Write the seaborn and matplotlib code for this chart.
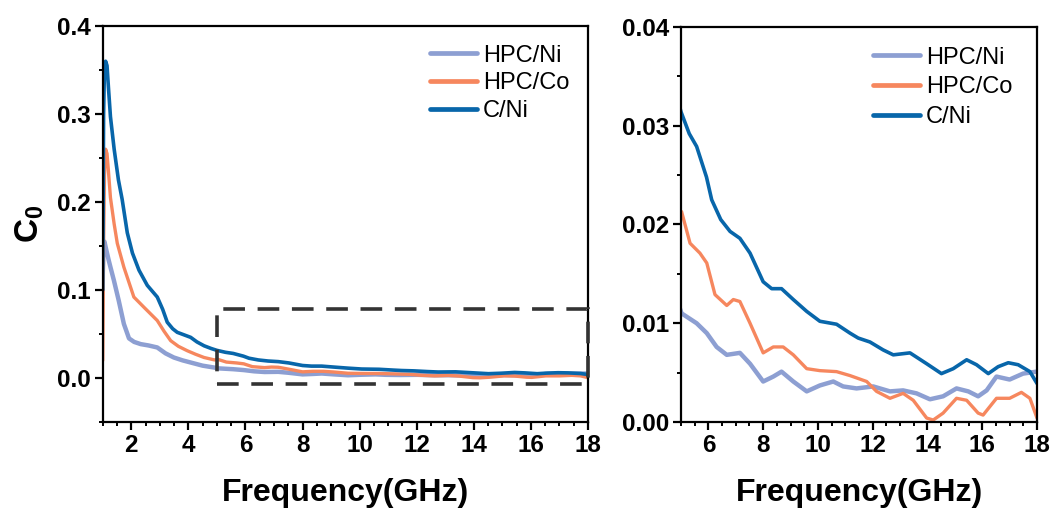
import numpy as np
import pandas as pd
import matplotlib
matplotlib.use("Agg")
import matplotlib.pyplot as plt
from matplotlib.patches import Rectangle
from matplotlib.ticker import MultipleLocator
import seaborn as sns

# ---------------- data ----------------
series_names = ["HPC/Ni", "HPC/Co", "C/Ni"]

freq_hpcni = [1.0, 1.03, 1.06, 1.1, 1.2, 1.27, 1.39, 1.56, 1.74, 1.92, 2.1, 2.33, 2.6, 2.91, 3.2,
              3.49, 3.8, 4.08, 4.5, 4.92, 5.02, 5.57, 5.94, 6.30, 6.67, 7.15, 7.52, 8.0, 8.37, 8.67,
              9.1, 9.59, 10.07, 10.56, 10.92, 11.41, 12.02, 12.63, 13.11, 13.6, 14.09, 14.57, 15.06,
              15.49, 15.85, 16.16, 16.52, 17.0, 17.49, 17.98]
c0_hpcni = [0.12, 0.15, 0.155, 0.149, 0.135, 0.126, 0.111, 0.088, 0.0615, 0.045, 0.041, 0.0385, 0.037,
            0.0347, 0.028, 0.0233, 0.020, 0.0176, 0.014, 0.0118, 0.0110, 0.0100, 0.0090, 0.0076, 0.0068,
            0.0070, 0.0059, 0.0041, 0.0046, 0.0051, 0.0041, 0.0031, 0.0037, 0.0041, 0.0036, 0.0034,
            0.0036, 0.0031, 0.0032, 0.0029, 0.0023, 0.0026, 0.0034, 0.0031, 0.0026, 0.0032, 0.0046,
            0.0043, 0.0049, 0.0051]

freq_hpcco = [1.0, 1.03, 1.06, 1.1, 1.15, 1.2, 1.27, 1.4, 1.51, 1.74, 2.09, 2.44, 2.91, 3.15, 3.38,
              3.65, 3.96, 4.25, 4.55, 4.92, 5.02, 5.33, 5.69, 5.94, 6.24, 6.67, 6.91, 7.15, 7.52, 8.0,
              8.37, 8.73, 9.1, 9.59, 10.07, 10.68, 11.17, 11.78, 12.14, 12.63, 13.11, 13.48, 13.97,
              14.21, 14.57, 15.06, 15.43, 15.85, 16.03, 16.52, 17.0, 17.43, 17.74, 18.0]
c0_hpcco = [0.02, 0.15, 0.23, 0.26, 0.255, 0.235, 0.205, 0.175, 0.153, 0.126, 0.092, 0.0805, 0.0653,
            0.053, 0.0424, 0.036, 0.031, 0.027, 0.0233, 0.0205, 0.0213, 0.0181, 0.0171, 0.0161, 0.0129,
            0.0118, 0.0124, 0.0122, 0.0100, 0.0070, 0.0076, 0.0076, 0.0068, 0.0054, 0.0052, 0.0051,
            0.0047, 0.0041, 0.0031, 0.0024, 0.0029, 0.0022, 0.0004, 0.0002, 0.0009, 0.0024, 0.0022,
            0.0009, 0.0007, 0.0024, 0.0024, 0.0030, 0.0024, 0.0004]

freq_cni = [1.0, 1.03, 1.06, 1.1, 1.15, 1.2, 1.27, 1.4, 1.55, 1.68, 1.86, 2.04, 2.27, 2.56, 2.91, 3.1,
            3.26, 3.45, 3.61, 3.85, 4.08, 4.3, 4.55, 4.8, 5.0, 5.3, 5.57, 5.93, 6.12, 6.45, 6.79, 7.15,
            7.52, 8.0, 8.31, 8.67, 9.1, 9.59, 10.07, 10.68, 11.17, 11.47, 11.9, 12.38, 12.75, 13.36,
            13.97, 14.51, 14.94, 15.43, 15.79, 16.22, 16.58, 16.95, 17.31, 17.74, 18.0]
c0_cni = [0.10, 0.30, 0.35, 0.36, 0.355, 0.33, 0.297, 0.26, 0.225, 0.203, 0.165, 0.142, 0.1225, 0.1053,
          0.092, 0.078, 0.0634, 0.056, 0.0519, 0.049, 0.0462, 0.041, 0.0366, 0.0335, 0.0314, 0.0292,
          0.0279, 0.0248, 0.0225, 0.0205, 0.0193, 0.0186, 0.0171, 0.0142, 0.0135, 0.0135, 0.0124,
          0.0112, 0.0102, 0.0099, 0.0090, 0.0085, 0.0081, 0.0073, 0.0068, 0.0070, 0.0059, 0.0049,
          0.0054, 0.0063, 0.0058, 0.0049, 0.0056, 0.0060, 0.0058, 0.0051, 0.0039]

left_yticks = [0.0, 0.1, 0.2, 0.3, 0.4]
left_xticks = [2, 4, 6, 8, 10, 12, 14, 16, 18]
right_yticks = [0.00, 0.01, 0.02, 0.03, 0.04]
right_xticks = [6, 8, 10, 12, 14, 16, 18]
zoom_box = (5, -0.007, 18, 0.078)  # x0, y0, x1, y1

# ---------------- style ----------------
sns.set_style("ticks")
plt.rcParams["font.family"] = ["Liberation Sans", "DejaVu Sans"]
plt.rcParams["mathtext.fontset"] = "custom"
plt.rcParams["mathtext.rm"] = "Liberation Sans"
plt.rcParams["mathtext.bf"] = "Liberation Sans:bold"
plt.rcParams["mathtext.it"] = "Liberation Sans:italic"
for k in ("text.color", "axes.labelcolor", "xtick.color", "ytick.color", "axes.edgecolor"):
    plt.rcParams[k] = "black"

colors = {"HPC/Ni": "#8d9fd2", "HPC/Co": "#f6875e", "C/Ni": "#0866aa"}
widths = {"HPC/Ni": 3.2, "HPC/Co": 2.4, "C/Ni": 2.6}
TICK_FS = 17.5

frames = []
for name, f, v in zip(series_names, [freq_hpcni, freq_hpcco, freq_cni], [c0_hpcni, c0_hpcco, c0_cni]):
    frames.append(pd.DataFrame({"freq": f, "c0": v, "series": name}))
df = pd.concat(frames, ignore_index=True)

fig = plt.figure(figsize=(10.57, 5.14), dpi=100)
axL = fig.add_axes([0.0972, 0.179, 0.4591, 0.7704])
axR = fig.add_axes([0.6443, 0.179, 0.3368, 0.7685])

for ax in (axL, axR):
    for name in series_names:
        sub = df[df["series"] == name]
        sns.lineplot(data=sub, x="freq", y="c0", ax=ax, color=colors[name], linewidth=widths[name],
                     label=name, estimator=None, sort=False)

axL.set_xlim(1, 18)
axL.set_ylim(-0.05, 0.4)
axL.set_xticks(left_xticks)
axL.set_yticks(left_yticks)
axL.set_yticklabels([f"{t:.1f}" for t in left_yticks], fontweight="bold", fontsize=TICK_FS)
axL.set_xticklabels([str(t) for t in left_xticks], fontweight="bold", fontsize=TICK_FS)
axL.xaxis.set_minor_locator(MultipleLocator(0.5))
axL.yaxis.set_minor_locator(MultipleLocator(0.05))
axL.set_ylabel(r"$\mathbf{C_0}$", fontsize=24, labelpad=8)

axR.set_xlim(5, 18)
axR.set_ylim(0, 0.04)
axR.set_xticks(right_xticks)
axR.set_yticks(right_yticks)
axR.set_yticklabels([f"{t:.2f}" for t in right_yticks], fontweight="bold", fontsize=TICK_FS)
axR.set_xticklabels([str(t) for t in right_xticks], fontweight="bold", fontsize=TICK_FS)
axR.xaxis.set_minor_locator(MultipleLocator(0.5))
axR.yaxis.set_minor_locator(MultipleLocator(0.005))
axR.set_ylabel("")

for ax in (axL, axR):
    for sp in ax.spines.values():
        sp.set_linewidth(1.6)
        sp.set_color("black")
    ax.tick_params(which="major", direction="out", length=5.5, width=1.6, pad=3, colors="black")
    ax.tick_params(which="minor", direction="out", length=3, width=1.4, colors="black")
    ax.set_xlabel("Frequency(GHz)", fontsize=23, fontweight="bold", labelpad=15)

x0, y0, x1, y1 = zoom_box
rect = Rectangle((x0, y0), x1 - x0, y1 - y0, fill=False, edgecolor="#333333", linewidth=2.6,
                 linestyle=(0, (6, 3.5)), clip_on=False, zorder=5)
axL.add_patch(rect)

for ax, anchor, spacing in ((axL, (0.674, 0.953), 0.24), (axR, (0.539, 0.950), 0.32)):
    leg = ax.legend(loc="upper left", bbox_to_anchor=anchor, frameon=False, fontsize=17,
                    handlelength=2.0, handletextpad=0.25, labelspacing=spacing, borderpad=0,
                    borderaxespad=0)
    for t in leg.get_texts():
        t.set_color("black")
    for h in leg.get_lines():
        h.set_linewidth(3.4)

fig.savefig("out.png", dpi=100)
